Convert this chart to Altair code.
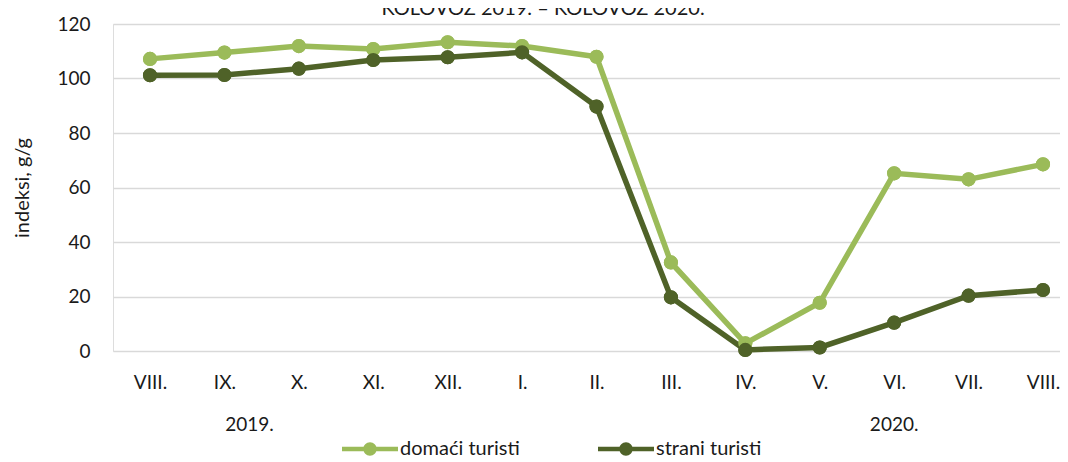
import altair as alt
import pandas as pd

title_text = "KOLOVOZ 2019. – KOLOVOZ 2020."
periods = ["2019-08", "2019-09", "2019-10", "2019-11", "2019-12", "2020-01", "2020-02",
           "2020-03", "2020-04", "2020-05", "2020-06", "2020-07", "2020-08"]
month_labels = ["VIII.", "IX.", "X.", "XI.", "XII.", "I.", "II.", "III.", "IV.", "V.",
                "VI.", "VII.", "VIII."]
domaci = [107.2, 109.5, 111.9, 110.8, 113.3, 111.9, 108.0, 32.5, 2.8, 17.7, 65.2, 63.0, 68.5]
strani = [101.2, 101.3, 103.6, 106.8, 107.8, 109.6, 89.7, 19.7, 0.4, 1.3, 10.4, 20.3, 22.4]
series_names = ["domaći turisti", "strani turisti"]
series_colors = ["#9BBB59", "#4F6228"]
y_ticks = [0, 20, 40, 60, 80, 100, 120]
year_labels = ["2019.", "2020."]
year_anchor = ["2019-09", "2020-06"]

FONT = "Lato"
TXT = "#1a1a1a"

rows = []
for name, vals in zip(series_names, [domaci, strani]):
    for p, v in zip(periods, vals):
        rows.append({"period": p, "series": name, "value": v})
df = pd.DataFrame(rows)

per_js = "[" + ",".join(f"'{p}'" for p in periods) + "]"
lab_js = "[" + ",".join(f"'{m}'" for m in month_labels) + "]"
label_expr = f"{lab_js}[indexof({per_js}, datum.value)]"

W, H = 947, 327

x_enc = alt.X(
    "period:O",
    scale=alt.Scale(type="point", domain=periods, padding=0.363, align=0.685),
    axis=alt.Axis(title=None, labelExpr=label_expr, ticks=False, domain=False, grid=False,
                  labelAngle=0, labelPadding=22, labelFontSize=19, labelFont=FONT,
                  labelColor=TXT),
)
y_enc = alt.Y(
    "value:Q",
    scale=alt.Scale(domain=[0, 120], nice=False),
    axis=alt.Axis(values=y_ticks, grid=True, gridColor="#d9d9d9", gridWidth=1.5,
                  domain=False, ticks=False, labelPadding=23, labelFontSize=19,
                  labelFont=FONT, labelColor=TXT,
                  title="indeksi, g/g", titleFontSize=20, titleFont=FONT,
                  titleFontWeight="normal", titleColor=TXT, titleAngle=-90,
                  titleX=-91, titleY=H / 2, titleAlign="center", titleBaseline="middle"),
)

legend_path = ("M-1,-0.08L1,-0.08L1,0.08L-1,0.08Z"
               "M0.24,0A0.24,0.24,0,1,1,-0.24,0A0.24,0.24,0,1,1,0.24,0Z")
legend = alt.Legend(orient="none", legendX=229, legendY=397,
                    direction="horizontal", title=None,
                    symbolType=legend_path, symbolSize=3136,
                    symbolStrokeWidth=0, symbolOpacity=1,
                    labelFontSize=20, labelFont=FONT, labelColor=TXT,
                    labelOffset=2, columnPadding=78, padding=0)
color_enc = alt.Color("series:N", scale=alt.Scale(domain=series_names, range=series_colors),
                      legend=legend)

points = alt.Chart(df).mark_point(filled=True, size=200, opacity=1).encode(
    x=x_enc, y=y_enc, color=color_enc,
)
lines = alt.Chart(df).mark_line(strokeWidth=5.5).encode(
    x=x_enc, y=y_enc, color=color_enc,
)

year_df = pd.DataFrame({"period": year_anchor, "label": year_labels})
year1 = alt.Chart(year_df.iloc[[0]]).mark_text(
    font=FONT, fontSize=19, color=TXT, baseline="middle", dx=25
).encode(x=alt.X("period:O"), y=alt.value(H + 74), text="label:N")
year2 = alt.Chart(year_df.iloc[[1]]).mark_text(
    font=FONT, fontSize=19, color=TXT, baseline="middle", dx=0
).encode(x=alt.X("period:O"), y=alt.value(H + 74), text="label:N")

title_df = pd.DataFrame({"t": [title_text]})
title = alt.Chart(title_df).mark_text(
    font=FONT, fontSize=20, color=TXT, baseline="alphabetic", align="center"
).encode(x=alt.value(430), y=alt.value(-9), text="t:N")

# points layer first so the shared legend takes filled symbols; drawn again on top of lines
chart = alt.layer(points, lines, points, year1, year2, title).properties(
    width=W, height=H,
    autosize=alt.AutoSizeParams(type="none"),
    padding={"left": 105, "top": 16, "right": 0, "bottom": 108},
).configure_view(stroke=None).configure(background="white")

chart.save("out.html", embed_options={"renderer": "svg", "actions": False})
